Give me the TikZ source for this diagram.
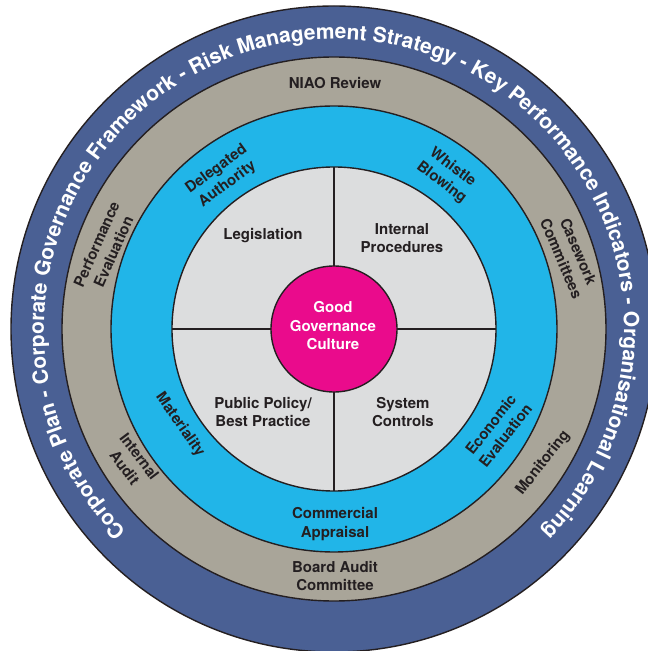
\documentclass[tikz,border=0pt]{standalone}
\usepackage{fontspec}
\setmainfont{TeX Gyre Heros}
\usetikzlibrary{decorations.text}

\newcommand{\ringtextfont}{\bfseries\fontsize{21bp}{25bp}\selectfont}

\begin{document}
\begin{tikzpicture}[line join=bevel,
  lbl/.style={font=\bfseries\fontsize{15bp}{18.5bp}\selectfont, text=labelcol, align=center, inner sep=0pt},
]

\pgfsetlinewidth{1.4bp}
\definecolor{strokecol}{rgb}{0.14,0.12,0.13}
\definecolor{labelcol}{rgb}{0.14,0.12,0.13}
\pgfsetstrokecolor{strokecol}

\useasboundingbox (-334bp,-322bp) rectangle (314bp,329bp);
\clip (-334bp,-322bp) rectangle (314bp,329bp);

% Ring: Corporate Plan
\begin{scope}
  \definecolor{fillcol}{rgb}{0.29,0.376,0.58};
  \draw[fill=fillcol] (0bp,0bp) circle (323bp);
\end{scope}

% Ring: review and audit
\begin{scope}
  \definecolor{fillcol}{rgb}{0.663,0.647,0.60};
  \draw[fill=fillcol] (0bp,0bp) circle (272bp);
\end{scope}

% Ring: controls
\begin{scope}
  \definecolor{fillcol}{rgb}{0.13,0.71,0.91};
  \draw[fill=fillcol] (0bp,0bp) circle (223bp);
\end{scope}

% Disc: quadrants
\begin{scope}
  \definecolor{fillcol}{rgb}{0.863,0.867,0.871};
  \draw[fill=fillcol] (0bp,0bp) circle (162bp);
\end{scope}

% Edge: quadrant dividers
\draw (90:63bp) -- (90:162bp);
\draw (180:63bp) -- (180:162bp);
\draw (270:63bp) -- (270:162bp);
\draw (0:63bp) -- (0:162bp);

% Disc: centre
\begin{scope}
  \definecolor{fillcol}{rgb}{0.918,0.043,0.549};
  \draw[fill=fillcol] (0bp,0bp) circle (63bp);
\end{scope}

% Text: outer ring
\path[decorate, decoration={text along path, text align=center, text color=white,
  text={|\ringtextfont|Corporate Plan - Corporate Governance Framework - Risk Management Strategy - Key Performance Indicators - Organisational Learning}}]
  (225:290bp) arc[start angle=225, end angle=-45, radius=290bp];

% Node: centre
\node[lbl, text=white] (culture) at (-1bp,3bp) {Good\\Governance\\Culture};

% Node: quadrants
\node[lbl] (legis) at (-71bp,93bp) {Legislation};
\node[lbl] (intproc) at (68bp,91bp) {Internal\\Procedures};
\node[lbl] (policy) at (-71bp,-83bp) {Public Policy/\\Best Practice};
\node[lbl] (sysctrl) at (69bp,-83bp) {System\\Controls};

% Node: controls ring
\node[lbl, rotate=36] (delegated) at (-112bp,152bp) {Delegated\\Authority};
\node[lbl, rotate=-37] (whistle) at (113bp,154bp) {Whistle\\Blowing};
\node[lbl, rotate=-55] (material) at (-154bp,-96bp) {Materiality};
\node[lbl, rotate=52] (economic) at (164bp,-101bp) {Economic\\Evaluation};
\node[lbl] (commercial) at (1bp,-195bp) {Commercial\\Appraisal};

% Node: review ring
\node[lbl] (niao) at (1bp,246bp) {NIAO Review};
\node[lbl, rotate=66] (perfeval) at (-229bp,81bp) {Performance\\Evaluation};
\node[lbl, rotate=-67] (casework) at (236bp,74bp) {Casework\\Committees};
\node[lbl, rotate=-53] (intaudit) at (-202bp,-133bp) {Internal\\Audit};
\node[lbl, rotate=52] (monitor) at (209bp,-134bp) {Monitoring};
\node[lbl] (board) at (1bp,-247bp) {Board Audit\\Committee};

\end{tikzpicture}
\end{document}
